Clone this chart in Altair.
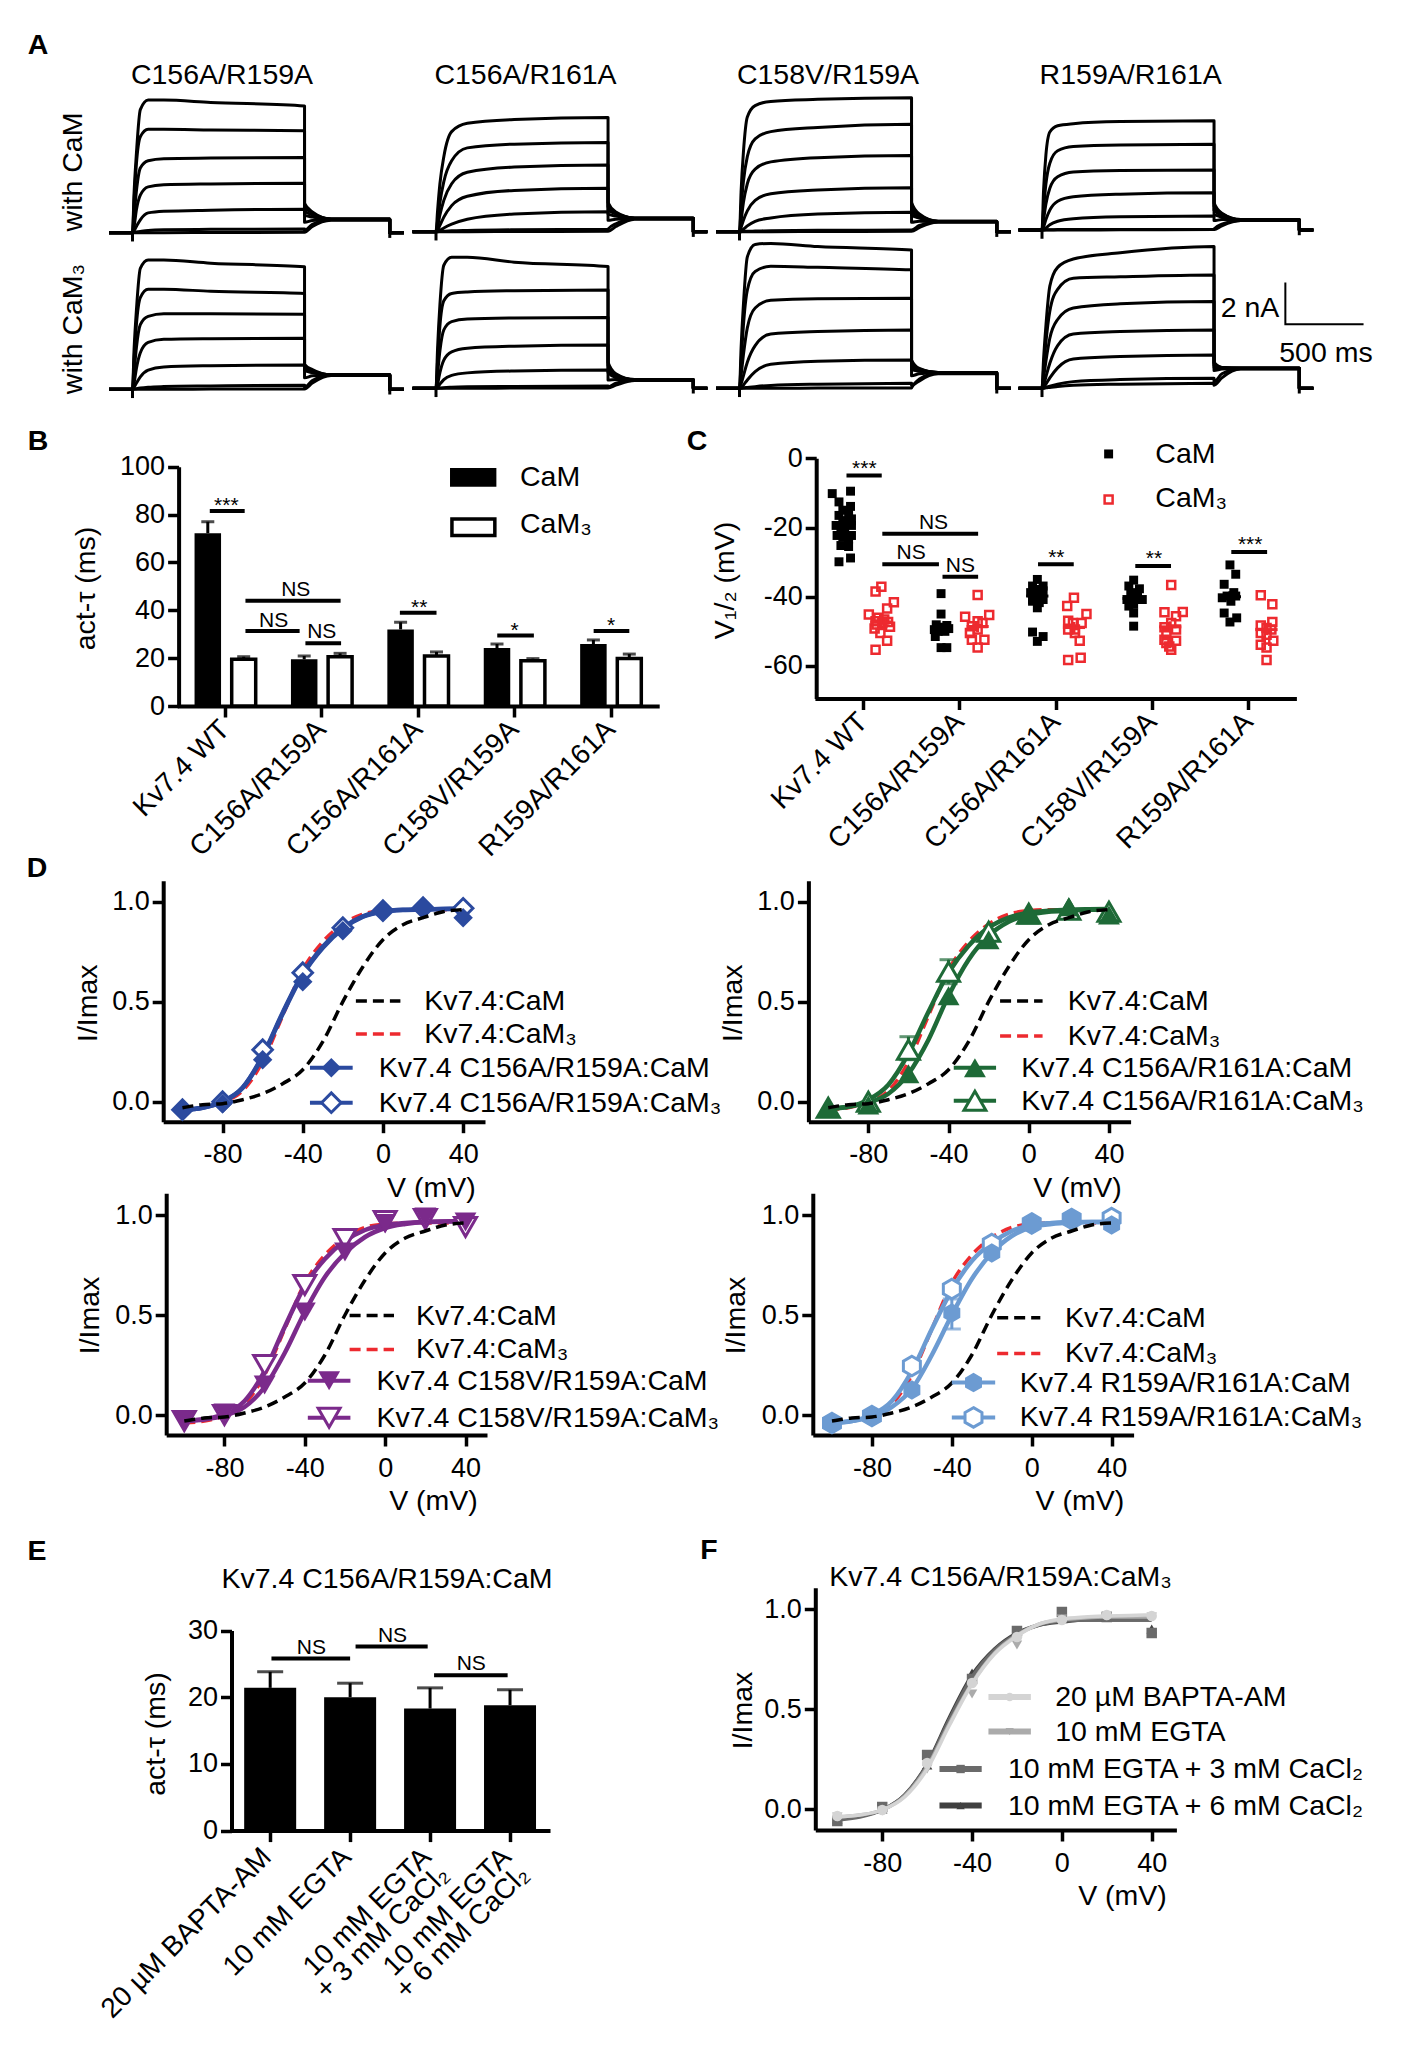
import altair as alt
import pandas as pd

FONT = "Liberation Sans"
MARGIN = 8
W, H = 1388, 2042

# ---------- panel A: current traces (nA), read at these times (ms) ----------
RISE_T = [0, 10, 25, 50, 100, 200, 500, 1100]
TAIL_T = [1100, 1150, 1270]
TRACE_END = 1645
TRACE_POST = 1735
TRACE_PRE = -150

A_TOP_LABELS = ["C156A/R159A", "C156A/R161A", "C158V/R159A", "R159A/R161A"]
A_TOP_X = [222, 525.5, 828, 1130.7]
A_START_PX = [132.5, 436, 739.5, 1042]
A_BASE_ROW1 = [232.7, 231.7, 231.7, 230]
A_BASE_ROW2 = [389.3, 388.3, 388.3, 388.3]

# each row: current at RISE_T then at TAIL_T
A1_CAM = [
    [0, 1.9, 3.8, 5.9, 6.36, 6.36, 6.25, 6.08, 1.4, 1.0, .66],
    [0, 1.5, 3.3, 4.6, 4.96, 4.96, 4.93, 4.89, 1.25, .95, .66],
    [0, .8, 2.0, 3.1, 3.45, 3.55, 3.58, 3.61, 1.05, .85, .65],
    [0, .3, 1.1, 1.8, 2.2, 2.3, 2.34, 2.37, .85, .75, .64],
    [0, .1, .3, .62, .95, 1.03, 1.08, 1.13, .5, .58, .63],
    [0, .01, .03, .06, .11, .14, .16, .18, .1, .4, .62],
    [0, 0, 0, 0, 0, 0, .01, .02, .02, .3, .6],
]
A2_CAM = [
    [0, 1.0, 2.3, 3.6, 4.8, 5.2, 5.38, 5.48, 1.4, .95, .66],
    [0, .5, 1.4, 2.4, 3.4, 4.02, 4.2, 4.28, 1.2, .9, .65],
    [0, .25, .8, 1.5, 2.3, 2.85, 3.1, 3.2, 1.05, .85, .65],
    [0, .08, .3, .7, 1.25, 1.7, 1.98, 2.08, .85, .75, .64],
    [0, .02, .07, .18, .36, .6, .85, .96, .55, .6, .63],
    [0, 0, .01, .02, .04, .06, .09, .11, .12, .38, .62],
    [0, 0, 0, 0, 0, 0, .01, .02, .02, .25, .6],
]
A3_CAM = [
    [0, 1.9, 3.8, 5.5, 6.05, 6.25, 6.35, 6.43, 1.4, .85, .5],
    [0, 1.1, 2.4, 3.6, 4.45, 4.8, 5.0, 5.15, 1.2, .8, .5],
    [0, .5, 1.4, 2.3, 3.0, 3.35, 3.55, 3.65, 1.0, .72, .49],
    [0, .2, .55, 1.0, 1.5, 1.82, 2.0, 2.11, .8, .65, .49],
    [0, .03, .12, .28, .5, .66, .85, .93, .45, .5, .48],
    [0, 0, .01, .02, .03, .05, .07, .08, .08, .3, .47],
    [0, 0, 0, 0, 0, 0, .01, .02, .02, .2, .46],
]
A4_CAM = [
    [0, 1.9, 3.6, 4.7, 5.0, 5.1, 5.2, 5.24, 1.3, .8, .5],
    [0, 1.0, 2.2, 3.2, 3.8, 4.0, 4.08, 4.11, 1.15, .78, .5],
    [0, .5, 1.25, 2.0, 2.55, 2.78, 2.85, 2.88, .95, .7, .49],
    [0, .15, .5, .95, 1.38, 1.6, 1.72, 1.79, .75, .62, .48],
    [0, .03, .1, .25, .42, .54, .63, .67, .45, .5, .48],
    [0, 0, .01, .01, .02, .02, .03, .03, .05, .28, .46],
    [0, 0, 0, 0, 0, 0, .01, .02, .02, .2, .45],
]
A1_CAM3 = [
    [0, 1.9, 3.8, 5.8, 6.2, 6.2, 6.05, 5.88, 1.2, .95, .7],
    [0, 1.4, 3.1, 4.4, 4.8, 4.8, 4.7, 4.6, 1.1, .9, .7],
    [0, .8, 2.0, 3.1, 3.5, 3.62, 3.62, 3.6, 1.0, .85, .7],
    [0, .3, 1.0, 1.75, 2.25, 2.4, 2.43, 2.45, .9, .8, .69],
    [0, .1, .3, .6, .92, 1.07, 1.13, 1.17, .55, .65, .69],
    [0, .01, .03, .06, .1, .13, .16, .2, .1, .42, .68],
    [0, 0, 0, 0, 0, 0, .01, .02, .02, .3, .66],
]
A2_CAM3 = [
    [0, 1.9, 4.0, 5.9, 6.28, 6.28, 6.05, 5.84, 1.25, .7, .42],
    [0, 1.3, 3.0, 4.2, 4.55, 4.62, 4.68, 4.72, 1.1, .65, .42],
    [0, .7, 1.8, 2.8, 3.2, 3.32, 3.37, 3.4, .95, .6, .41],
    [0, .2, .75, 1.35, 1.75, 1.92, 2.02, 2.08, .75, .52, .41],
    [0, .05, .2, .42, .62, .74, .83, .88, .4, .42, .4],
    [0, 0, .01, .03, .05, .07, .09, .11, .06, .25, .39],
    [0, 0, 0, 0, 0, 0, .01, .02, .02, .15, .38],
]
A3_CAM3 = [
    [0, 1.9, 4.0, 6.3, 6.9, 6.95, 6.8, 6.63, 1.35, .95, .76],
    [0, 1.2, 3.0, 4.7, 5.6, 5.85, 5.8, 5.68, 1.2, .92, .76],
    [0, .6, 1.6, 2.9, 3.85, 4.22, 4.3, 4.32, 1.05, .88, .75],
    [0, .2, .6, 1.25, 2.05, 2.6, 2.72, 2.8, .9, .82, .75],
    [0, .04, .15, .4, .8, 1.15, 1.3, 1.36, .6, .7, .74],
    [0, 0, .02, .04, .08, .14, .2, .24, .15, .45, .72],
    [0, 0, 0, 0, 0, 0, .01, .02, .03, .35, .7],
]
A4_CAM3 = [
    [0, 1.4, 3.0, 4.9, 5.8, 6.2, 6.5, 6.8, 1.25, 1.0, .97],
    [0, .9, 2.2, 3.7, 4.75, 5.28, 5.35, 5.44, 1.2, 1.0, .97],
    [0, .5, 1.3, 2.4, 3.3, 3.85, 4.05, 4.16, 1.1, .98, .96],
    [0, .15, .55, 1.2, 2.05, 2.6, 2.72, 2.8, 1.0, .96, .96],
    [0, .05, .2, .5, .98, 1.4, 1.52, 1.6, .85, .92, .95],
    [0, .01, .04, .1, .2, .32, .42, .48, .3, .7, .94],
    [0, 0, .02, .04, .09, .15, .2, .24, .15, .5, .92],
]
SCALEBAR_T = [1556, 1556, 2056]
SCALEBAR_I = [5.07, 3.07, 3.07]

# ---------- panels B, C, E ----------
GROUPS = ["Kv7.4 WT", "C156A/R159A", "C156A/R161A", "C158V/R159A", "R159A/R161A"]
B_CAM = [72.2, 19.5, 32, 24.2, 25.9]
B_CAM_ERR = [77, 20.9, 35, 25.9, 27.6]
B_CAM3 = [19.5, 20.6, 20.9, 18.9, 19.9]
B_CAM3_ERR = [20.6, 22, 22.6, 19.8, 21.7]
B_SIG_X1 = [.338, .708, .708, 1.33, 2.31, 3.32, 4.32]
B_SIG_X2 = [.70, 1.695, 1.27, 1.70, 2.69, 3.70, 4.69]
B_SIG_Y = [81.5, 44, 31.3, 26.2, 39, 29.5, 31.3]
B_SIG_TEXT = ["***", "NS", "NS", "NS", "**", "*", "*"]
B_SIG_TEXT_X = [.51, 1.23, 1.0, 1.5, 2.51, 3.5, 4.5]
B_SIG_TEXT_Y = [83.5, 48.5, 35.5, 30.8, 41, 31.5, 33.5]

C_CAM_OFF = [
    [-.32, -.13, -.25, -.13, -.21, -.15, -.25, -.12, -.21, -.16, -.28, -.12, -.23, -.19, -.27, -.12, -.21, -.15, -.23, -.15, -.13, -.25],
    [-.19, -.19, -.24, -.13, -.26, -.17, -.11, -.22, -.15, -.25, -.13, -.19],
    [-.19, -.24, -.13, -.19, -.26, -.13, -.19, -.24, -.13, -.17, -.24, -.19, -.24, -.13, -.19],
    [-.19, -.24, -.13, -.22, -.15, -.19, -.26, -.10, -.19, -.24, -.19, -.19],
    [-.19, -.13, -.25, -.15, -.22, -.27, -.18, -.13, -.25, -.12, -.19],
]
C_CAM_V = [
    [-10.2, -9.5, -12.6, -13.9, -15, -16, -16.5, -17.5, -18, -18.9, -19.4, -19.4, -19.9, -20.9, -22.3, -22.3, -22.8, -23.3, -25.2, -25.5, -28.8, -29.9],
    [-39.1, -45, -48.1, -48.3, -49.5, -48.8, -49.2, -50, -50, -51.5, -54.7, -54.7],
    [-35, -36.9, -36.9, -37.9, -38.8, -38.3, -39.8, -40.8, -40.8, -41.7, -41.3, -43.2, -50.2, -51.5, -52.9],
    [-35.2, -36.9, -37.7, -38.8, -39.3, -40.8, -40.8, -40.8, -42.2, -42.7, -44.7, -48.5],
    [-30.8, -33.5, -36.4, -38.8, -39.8, -40.3, -41.3, -39.8, -44.7, -46.1, -47.3],
]
C_CAM3_OFF = [
    [.19, .13, .32, .25, .06, .26, .13, .20, .28, .12, .18, .25, .13, .16, .22, .14],
    [.19, .06, .31, .19, .24, .13, .19, .26, .13, .19, .11],
    [.19, .12, .32, .13, .27, .18, .13, .20, .25, .26, .13, .20],
    [.20, .32, .13, .25, .20, .13, .25, .15, .13, .25, .18, .20, .15],
    [.13, .25, .25, .13, .19, .24, .13, .19, .26, .13, .19, .19],
]
C_CAM3_V = [
    [-37.1, -38.5, -41.6, -43.4, -45.1, -47.3, -47.1, -47.6, -48.7, -49.2, -50.5, -52.7, -55.3, -46.1, -46.6, -48],
    [-39.5, -45.8, -45.3, -47.1, -47.6, -48.5, -49.5, -52.4, -52.4, -54.7, -50.5],
    [-40.3, -42.7, -45, -46.9, -47.6, -47.6, -49.5, -49.5, -52.7, -57.6, -58.3, -50.5],
    [-36.6, -44.4, -44.5, -45.6, -47.6, -48.8, -49.5, -50.5, -52.4, -52.7, -54.4, -55.3, -53.4],
    [-39.6, -42.2, -47.3, -48.3, -49, -49.5, -50.5, -51, -52.7, -53.9, -54.7, -58.3],
]
C_CAM_MEAN = [-18.9, -49.3, -39.8, -40.5, -40]
C_CAM3_MEAN = [-47.3, -48.6, -48.9, -48.7, -49.5]
C_SEM = [1.6, 1.6, 1.6, 1.6, 1.6]
C_SIG_X1 = [.328, .70, .70, 1.325, 2.317, 3.327, 4.324]
C_SIG_X2 = [.694, 1.695, 1.288, 1.695, 2.688, 3.698, 4.696]
C_SIG_Y = [-5, -21.8, -30.6, -34.2, -30.6, -31.1, -27.1]
C_SIG_TEXT = ["***", "NS", "NS", "NS", "**", "**", "***"]
C_SIG_TEXT_X = [.513, 1.232, 1.0, 1.51, 2.507, 3.52, 4.52]
C_SIG_TEXT_Y = [-3.2, -18.6, -27.5, -31.1, -28.7, -29.1, -25.1]

E_GROUPS = ["20 µM BAPTA-AM", "10 mM EGTA", "10 mM EGTA|+ 3 mM CaCl₂", "10 mM EGTA|+ 6 mM CaCl₂"]
E_TAU = [21.4, 20, 18.3, 18.8]
E_ERR = [23.8, 22.1, 21.4, 21.1]
E_SIG_X1 = [.516, 1.568, 2.55]
E_SIG_X2 = [1.5, 2.47, 3.47]
E_SIG_Y = [25.8, 27.6, 23.3]
E_SIG_TEXT = ["NS", "NS", "NS"]
E_SIG_TEXT_X = [1.015, 2.03, 3.015]
E_SIG_TEXT_Y = [27.4, 29.2, 25]

# ---------- panels D, F: I/Imax against V ----------
V_FIT = [-100, -90, -80, -70, -60, -50, -40, -30, -20, -10, 0, 10, 20, 30, 40]
V_STEP = [-100, -80, -60, -40, -20, 0, 20, 40]
KV_CAM_FIT = [-.03, -.015, -.01, .01, .04, .09, .16, .30, .50, .675, .81, .885, .92, .95, .96]
KV_CAM3_FIT = [-.04, -.03, -.003, .055, .20, .43, .66, .80, .888, .938, .955, .96, .96, .96, .96]

D1_CAM_FIT = [-.04, -.03, 0, .07, .225, .44, .635, .77, .865, .925, .95, .958, .96, .963, .963]
D1_CAM3_FIT = [-.04, -.03, 0, .07, .23, .445, .64, .775, .87, .927, .952, .96, .962, .964, .965]
D1_CAM_PTS = [-.04, -.01, .21, .60, .855, .958, .975, .92]
D1_CAM3_PTS = [-.04, 0, .26, .645, .87, .955, .97, .967]

D2_CAM_FIT = [-.035, -.025, -.005, .04, .14, .31, .53, .71, .83, .90, .935, .95, .955, .96, .96]
D2_CAM3_FIT = [-.035, -.025, .01, .085, .24, .45, .645, .78, .87, .92, .945, .955, .96, .962, .963]
D2_CAM_PTS = [-.03, -.017, .14, .53, .81, .933, .975, .933]
D2_CAM3_PTS = [-.03, 0, .26, .65, .85, .94, .96, .95]
D2_ERR_V = [-60, -40]
D2_ERR_LOW = [.21, .59]
D2_ERR_HIGH = [.325, .71]

D3_CAM_FIT = [-.03, -.022, -.003, .04, .14, .31, .515, .69, .81, .89, .935, .955, .965, .968, .97]
D3_CAM3_FIT = [-.03, -.02, .005, .07, .22, .44, .645, .78, .87, .925, .95, .96, .965, .968, .97]
D3_CAM_PTS = [-.025, .01, .15, .515, .815, .957, .99, .965]
D3_CAM3_PTS = [-.03, 0, .25, .65, .88, .97, .98, .94]

D4_CAM_FIT = [-.04, -.03, -.01, .04, .13, .30, .50, .68, .81, .895, .94, .955, .962, .965, .965]
D4_CAM3_FIT = [-.04, -.03, 0, .07, .22, .43, .625, .77, .86, .92, .95, .96, .965, .965, .965]
D4_CAM_PTS = [-.04, -.01, .125, .51, .81, .953, .985, .95]
D4_CAM3_PTS = [-.04, -.005, .245, .63, .855, .958, .98, .985]
D4_ERR_V = [-40]
D4_ERR_LOW = [.43]
D4_ERR_HIGH = [.58]

D_SHORT_LABELS = ["Kv7.4:CaM", "Kv7.4:CaM₃"]
D1_LABELS = ["Kv7.4 C156A/R159A:CaM", "Kv7.4 C156A/R159A:CaM₃"]
D2_LABELS = ["Kv7.4 C156A/R161A:CaM", "Kv7.4 C156A/R161A:CaM₃"]
D3_LABELS = ["Kv7.4 C158V/R159A:CaM", "Kv7.4 C158V/R159A:CaM₃"]
D4_LABELS = ["Kv7.4 R159A/R161A:CaM", "Kv7.4 R159A/R161A:CaM₃"]

F_LABELS = ["20 µM BAPTA-AM", "10 mM EGTA", "10 mM EGTA + 3 mM CaCl₂", "10 mM EGTA + 6 mM CaCl₂"]
F_FITS = [
    [-.04, -.03, -.005, .06, .20, .42, .625, .775, .865, .925, .95, .96, .965, .968, .97],
    [-.04, -.03, -.005, .065, .21, .43, .63, .78, .87, .925, .945, .955, .96, .96, .96],
    [-.055, -.04, -.005, .07, .22, .45, .66, .795, .875, .92, .94, .945, .948, .948, .948],
    [-.05, -.035, -.005, .07, .225, .46, .67, .80, .88, .92, .935, .945, .945, .945, .945],
]
F_PTS = [
    [-.035, -.005, .23, .63, .86, .945, .97, .965],
    [-.04, -.01, .20, .575, .82, .95, .965, .96],
    [-.06, .01, .27, .65, .89, .985, .96, .88],
    [-.05, 0, .22, .68, .88, .96, .96, .90],
]

LETTERS = ["A", "B", "C", "D", "E", "F"]
LETTER_X = [38, 38, 697, 37, 37, 709]
LETTER_Y = [45, 441, 441, 868, 1551, 1550]

HEXAGON = "M0,-1L0.87,-0.5L0.87,0.5L0,1L-0.87,0.5L-0.87,-0.5Z"
RED = "#ED2A2F"

layers = []


def q_scale(domain, a, b):
    return alt.Scale(domain=domain, range=[a - MARGIN, b - MARGIN], nice=False, zero=False)


def band_scale(cats, a, b):
    return alt.Scale(domain=cats, range=[a - MARGIN, b - MARGIN], paddingInner=0, paddingOuter=0)


AXIS_STYLE = dict(
    grid=False, domainColor="black", domainWidth=4, tickColor="black", tickWidth=3.5, tickSize=11,
    labelColor="black", labelFont=FONT, labelOverlap=False, labelBound=False,
    titleFont=FONT, titleFontSize=28.5, titleFontWeight="normal", titleColor="black",
    titleAlign="center", titleBaseline="middle",
)


def y_axis(px, values, title, tx, ty, fmt=None):
    extra = {"format": fmt} if fmt else {"labelExpr": "'' + datum.value"}
    return alt.Axis(orient="left", offset=-(px - MARGIN), values=values, title=title, titleAngle=270,
                    titleX=tx - px, titleY=ty - MARGIN, labelPadding=3, labelFontSize=27, **extra, **AXIS_STYLE)


def x_axis_q(py, values, tx, ty):
    return alt.Axis(orient="bottom", offset=-(H - (py - MARGIN)), values=values, title="V (mV)",
                    titleX=tx - MARGIN, titleY=ty - py, labelPadding=9, labelFontSize=27,
                    labelExpr="'' + datum.value", **AXIS_STYLE)


def x_axis_band(py, pad=8, shift=0):
    return alt.Axis(orient="bottom", offset=-(H - (py - MARGIN)), title=None, labelAngle=-45,
                    labelAlign="right", labelBaseline="middle", labelPadding=pad, labelOffset=shift,
                    labelLimit=400, labelFontSize=28, labelExpr="split(datum.label, '|')",
                    labelLineHeight=25, **AXIS_STYLE)


def enc_x(sc, axis=None, field="x"):
    return alt.X(f"{field}:Q", scale=sc, axis=axis, title=None)


def enc_y(sc, axis=None, field="y"):
    return alt.Y(f"{field}:Q", scale=sc, axis=axis, title=None)


def add_text(texts, xs, ys, xsc, ysc, size=28.5, align="left", **mark):
    df = pd.DataFrame({"x": xs, "y": ys, "t": texts})
    layers.append(alt.Chart(df).mark_text(font=FONT, fontSize=size, align=align, baseline="middle",
                                          color=mark.pop("color", "black"), **mark)
                  .encode(x=enc_x(xsc), y=enc_y(ysc), text="t:N"))


def add_segments(x1, x2, y, xsc, ysc, color="black", width=4, dash=None):
    df = pd.DataFrame({"x": x1, "x2": x2, "y": y})
    mark = dict(color=color, strokeWidth=width)
    if dash:
        mark["strokeDash"] = dash
    layers.append(alt.Chart(df).mark_rule(**mark).encode(x=enc_x(xsc), x2="x2:Q", y=enc_y(ysc)))


def add_vsegments(x, y1, y2, xsc, ysc, color="black", width=3):
    df = pd.DataFrame({"x": x, "y": y1, "y2": y2})
    layers.append(alt.Chart(df).mark_rule(color=color, strokeWidth=width)
                  .encode(x=enc_x(xsc), y=enc_y(ysc), y2="y2:Q"))


# ---------- panel A ----------
def trace_panel(rows, x0, base):
    recs = []
    for n, row in enumerate(rows):
        ts = [TRACE_PRE, 0] + RISE_T + TAIL_T + [TRACE_END, TRACE_END, TRACE_POST]
        vs = [0, 0] + row + [row[-1], 0, 0]
        recs += [{"x": t, "y": v, "trace": n, "k": k} for k, (t, v) in enumerate(zip(ts, vs))]
    recs += [{"x": 0, "y": 0, "trace": "on", "k": 0}, {"x": 0, "y": -.42, "trace": "on", "k": 1}]
    recs += [{"x": TRACE_END, "y": 0, "trace": "off", "k": 0}, {"x": TRACE_END, "y": -.25, "trace": "off", "k": 1}]
    xsc = q_scale([0, 1000], x0, x0 + 156.4)
    ysc = q_scale([0, 1], base, base - 20.85)
    layers.append(alt.Chart(pd.DataFrame(recs))
                  .mark_line(color="black", strokeWidth=3, strokeJoin="round", interpolate="monotone")
                  .encode(x=enc_x(xsc), y=enc_y(ysc), detail="trace:N", order="k:Q"))
    return xsc, ysc


for rows, x0, base in zip([A1_CAM, A2_CAM, A3_CAM, A4_CAM], A_START_PX, A_BASE_ROW1):
    trace_panel(rows, x0, base)
for rows, x0, base in zip([A1_CAM3, A2_CAM3, A3_CAM3, A4_CAM3], A_START_PX, A_BASE_ROW2):
    bar_x, bar_y = trace_panel(rows, x0, base)

layers.append(alt.Chart(pd.DataFrame({"x": SCALEBAR_T, "y": SCALEBAR_I, "k": [0, 1, 2]}))
              .mark_line(color="black", strokeWidth=2)
              .encode(x=enc_x(bar_x), y=enc_y(bar_y), order="k:Q"))

page_x = q_scale([0, 1404], 0, 1404)
page_y = q_scale([0, 2058], 0, 2058)
add_text(A_TOP_LABELS, A_TOP_X, [75] * 4, page_x, page_y, align="center")
add_text(["with CaM", "with CaM₃"], [73, 73], [172, 329], page_x, page_y, align="center", angle=270)
add_text(["2 nA", "500 ms"], [1250, 1326], [308, 352.7], page_x, page_y, align="center")
add_text(LETTERS, LETTER_X, LETTER_Y, page_x, page_y, align="center", fontWeight="bold")
add_text(["Kv7.4 C156A/R159A:CaM", "Kv7.4 C156A/R159A:CaM₃"], [387, 1000.5], [1579, 1577],
         page_x, page_y, align="center")


# ---------- panel B ----------
def add_sig(x1, x2, y, txt, tx, ty, xsc, ysc, width=4):
    add_segments(x1, x2, y, xsc, ysc, width=width)
    add_text(txt, tx, ty, xsc, ysc, size=21, align="center")


b_band = band_scale(GROUPS, 177.2, 659.2)
b_y = q_scale([0, 100], 706, 466.7)
b_u = q_scale([0, 5], 177.2, 659.2)
b_ax = y_axis(178.6, [0, 20, 40, 60, 80, 100], "act-τ (ms)", 85, 588)
b_df = pd.DataFrame({"g": GROUPS, "cam": B_CAM, "cam_err": B_CAM_ERR, "cam3": B_CAM3, "cam3_err": B_CAM3_ERR})
gx = lambda axis=None: alt.X("g:N", scale=b_band, axis=axis, title=None, sort=None)

for val, err, off in [("cam", "cam_err", -17.6), ("cam3", "cam3_err", 18.3)]:
    layers.append(alt.Chart(b_df).mark_rule(color="black", strokeWidth=3, xOffset=off)
                  .encode(x=gx(), y=alt.Y(f"{val}:Q", scale=b_y, axis=None, title=None), y2=f"{err}:Q"))
    layers.append(alt.Chart(b_df).mark_tick(color="black", size=13, thickness=3, xOffset=off)
                  .encode(x=gx(), y=alt.Y(f"{err}:Q", scale=b_y, axis=None, title=None)))
layers.append(alt.Chart(b_df).mark_bar(color="black", size=26.5, xOffset=-17.6)
              .encode(x=gx(x_axis_band(706)), y=alt.Y("cam:Q", scale=b_y, axis=b_ax, title=None)))
layers.append(alt.Chart(b_df).mark_bar(fill="white", stroke="black", strokeWidth=3.5, size=24, xOffset=18.3)
              .encode(x=gx(), y=alt.Y("cam3:Q", scale=b_y, axis=None, title=None)))
add_sig(B_SIG_X1, B_SIG_X2, B_SIG_Y, B_SIG_TEXT, B_SIG_TEXT_X, B_SIG_TEXT_Y, b_u, b_y)

leg_b = pd.DataFrame({"x": [2.83], "x2": [3.311], "y": [99.5], "y2": [91.6]})
layers.append(alt.Chart(leg_b).mark_rect(color="black")
              .encode(x=enc_x(b_u), x2="x2:Q", y=enc_y(b_y), y2="y2:Q"))
leg_b3 = pd.DataFrame({"x": [2.85], "x2": [3.295], "y": [78.1], "y2": [71.2]})
layers.append(alt.Chart(leg_b3).mark_rect(fill="white", stroke="black", strokeWidth=3.5)
              .encode(x=enc_x(b_u), x2="x2:Q", y=enc_y(b_y), y2="y2:Q"))
add_text(["CaM", "CaM₃"], [3.556, 3.556], [95.8, 76], b_u, b_y)

# ---------- panel C ----------
c_band = band_scale(GROUPS, 814.9, 1296.4)
c_y = q_scale([-69.4, 0], 698.5, 458.3)
c_u = q_scale([0, 5], 814.9, 1296.4)
c_ax = y_axis(816.2, [0, -20, -40, -60], "V₁/₂ (mV)", 724.6, 580)
layers.append(alt.Chart(pd.DataFrame({"g": GROUPS, "y": [0] * 5})).mark_point(opacity=0)
              .encode(x=alt.X("g:N", scale=c_band, axis=x_axis_band(698.5), title=None, sort=None),
                      y=alt.Y("y:Q", scale=c_y, axis=c_ax, title=None)))


def scatter_recs(offs, vals):
    return pd.DataFrame([{"x": g + .5 + o, "y": v}
                         for g, (os_, vs) in enumerate(zip(offs, vals))
                         for o, v in zip(os_, vs)])


layers.append(alt.Chart(scatter_recs(C_CAM_OFF, C_CAM_V))
              .mark_point(shape="square", filled=True, color="black", size=80, opacity=1)
              .encode(x=enc_x(c_u), y=enc_y(c_y)))
layers.append(alt.Chart(scatter_recs(C_CAM3_OFF, C_CAM3_V))
              .mark_point(shape="square", filled=False, color=RED, size=64, strokeWidth=2.5, opacity=1)
              .encode(x=enc_x(c_u), y=enc_y(c_y)))
centers = [g + .5 for g in range(5)]
add_segments([c - .305 for c in centers], [c - .075 for c in centers], C_CAM_MEAN, c_u, c_y, width=3)
add_segments([c + .075 for c in centers], [c + .305 for c in centers], C_CAM3_MEAN, c_u, c_y, color=RED, width=3)
add_vsegments([c - .19 for c in centers], [m - s for m, s in zip(C_CAM_MEAN, C_SEM)],
              [m + s for m, s in zip(C_CAM_MEAN, C_SEM)], c_u, c_y)
add_vsegments([c + .19 for c in centers], [m - s for m, s in zip(C_CAM3_MEAN, C_SEM)],
              [m + s for m, s in zip(C_CAM3_MEAN, C_SEM)], c_u, c_y, color=RED)
add_sig(C_SIG_X1, C_SIG_X2, C_SIG_Y, C_SIG_TEXT, C_SIG_TEXT_X, C_SIG_TEXT_Y, c_u, c_y)
layers.append(alt.Chart(pd.DataFrame({"x": [3.05], "y": [1.26]}))
              .mark_point(shape="square", filled=True, color="black", size=80, opacity=1)
              .encode(x=enc_x(c_u), y=enc_y(c_y)))
layers.append(alt.Chart(pd.DataFrame({"x": [3.05], "y": [-11.9]}))
              .mark_point(shape="square", filled=False, color=RED, size=64, strokeWidth=2.5, opacity=1)
              .encode(x=enc_x(c_u), y=enc_y(c_y)))
add_text(["CaM", "CaM₃"], [3.535, 3.535], [1.26, -11.4], c_u, c_y)


# ---------- panel D ----------
def iv_panel(xr, xdom, yr, ydom, ty_title, tx_y, tx_x, ty_x, color, shape, size, cam_fit, cam3_fit,
             cam_pts, cam3_pts, labels, short_x, long_x, leg_y, err=None):
    xsc = q_scale(xdom, xr[0], xr[1])
    ysc = q_scale(ydom, yr[0], yr[1])
    ax_y = y_axis(xr[0], [0, .5, 1], "I/Imax", tx_y, ty_title, fmt=".1f")
    ax_x = x_axis_q(yr[0], [-80, -40, 0, 40], tx_x, ty_x)
    layers.append(alt.Chart(pd.DataFrame({"x": V_FIT, "y": KV_CAM3_FIT}))
                  .mark_line(color=RED, strokeWidth=3.5, strokeDash=[11, 6], interpolate="monotone")
                  .encode(x=enc_x(xsc, ax_x), y=enc_y(ysc, ax_y)))
    for fit in (cam_fit, cam3_fit):
        layers.append(alt.Chart(pd.DataFrame({"x": V_FIT, "y": fit}))
                      .mark_line(color=color, strokeWidth=4.5, interpolate="monotone")
                      .encode(x=enc_x(xsc), y=enc_y(ysc)))
    if err:
        add_vsegments(err[0], err[1], err[2], xsc, ysc, color=color, width=3)
        for ends in (err[1], err[2]):
            layers.append(alt.Chart(pd.DataFrame({"x": err[0], "y": ends}))
                          .mark_tick(color=color, size=18, thickness=3, orient="horizontal")
                          .encode(x=enc_x(xsc), y=enc_y(ysc)))
    layers.append(alt.Chart(pd.DataFrame({"x": V_STEP, "y": cam3_pts}))
                  .mark_point(shape=shape, filled=True, fill="white", stroke=color, strokeWidth=3, size=size, opacity=1)
                  .encode(x=enc_x(xsc), y=enc_y(ysc)))
    layers.append(alt.Chart(pd.DataFrame({"x": V_STEP, "y": cam_pts}))
                  .mark_point(shape=shape, filled=True, color=color, size=size, opacity=1)
                  .encode(x=enc_x(xsc), y=enc_y(ysc)))
    layers.append(alt.Chart(pd.DataFrame({"x": V_FIT, "y": KV_CAM_FIT}))
                  .mark_line(color="black", strokeWidth=3.5, strokeDash=[11, 6], interpolate="monotone")
                  .encode(x=enc_x(xsc), y=enc_y(ysc)))
    # hand-drawn style legend inside the panel
    add_segments([short_x[0]], [short_x[1]], [leg_y[0]], xsc, ysc, width=3.5, dash=[11, 6])
    add_segments([short_x[0]], [short_x[1]], [leg_y[1]], xsc, ysc, color=RED, width=3.5, dash=[11, 6])
    add_text(D_SHORT_LABELS, [short_x[2]] * 2, leg_y[:2], xsc, ysc)
    add_segments([long_x[0]] * 2, [long_x[1]] * 2, leg_y[2:], xsc, ysc, color=color, width=4)
    mid = (long_x[0] + long_x[1]) / 2
    layers.append(alt.Chart(pd.DataFrame({"x": [mid], "y": [leg_y[3]]}))
                  .mark_point(shape=shape, filled=True, fill="white", stroke=color, strokeWidth=3, size=size, opacity=1)
                  .encode(x=enc_x(xsc), y=enc_y(ysc)))
    layers.append(alt.Chart(pd.DataFrame({"x": [mid], "y": [leg_y[2]]}))
                  .mark_point(shape=shape, filled=True, color=color, size=size, opacity=1)
                  .encode(x=enc_x(xsc), y=enc_y(ysc)))
    add_text(labels, [long_x[2]] * 2, leg_y[2:], xsc, ysc)


iv_panel([163.2, 485], [-109.6, 50.9], [1121.7, 880.7], [-.1, 1.105], 1002.7, 87, 430.8, 1187,
         "#2B4A9F", "diamond", 380, D1_CAM_FIT, D1_CAM3_FIT, D1_CAM_PTS, D1_CAM3_PTS, D1_LABELS,
         [-13.5, 8.7, 20.6], [-36.4, -15.1, -2.1], [.503, .338, .17, -.005])
iv_panel([808.4, 1130.6], [-109.9, 50.8], [1121.7, 880.7], [-.1, 1.105], 1002.7, 732.5, 1077, 1187,
         "#1E6A37", "triangle-up", 480, D2_CAM_FIT, D2_CAM3_FIT, D2_CAM_PTS, D2_CAM3_PTS, D2_LABELS,
         [-14.3, 6.9, 19.5], [-37.4, -16.3, -3.8], [.503, .328, .17, .005],
         err=(D2_ERR_V, D2_ERR_LOW, D2_ERR_HIGH))
iv_panel([166.2, 487], [-109, 50.7], [1435, 1193.3], [-.1, 1.1085], 1315, 89.5, 433, 1500,
         "#7B2A8B", "triangle-down", 480, D3_CAM_FIT, D3_CAM3_FIT, D3_CAM_PTS, D3_CAM3_PTS, D3_LABELS,
         [-17.7, 4.4, 15.3], [-38.5, -17.3, -4.3], [.497, .328, .171, -.014])
iv_panel([812.8, 1133.6], [-109.6, 51], [1435, 1193.3], [-.1, 1.1085], 1315, 735.6, 1079.4, 1500,
         "#6C9BD2", HEXAGON, 380, D4_CAM_FIT, D4_CAM3_FIT, D4_CAM_PTS, D4_CAM3_PTS, D4_LABELS,
         [-17.3, 4.3, 16.6], [-40, -18.3, -6], [.486, .308, .162, -.012],
         err=(D4_ERR_V, D4_ERR_LOW, D4_ERR_HIGH))

# ---------- panel E ----------
e_band = band_scale(E_GROUPS, 230.2, 550)
e_y = q_scale([0, 30], 1830.6, 1630.5)
e_u = q_scale([0, 4], 230.2, 550)
e_df = pd.DataFrame({"g": E_GROUPS, "tau": E_TAU, "err": E_ERR})
ex = lambda axis=None: alt.X("g:N", scale=e_band, axis=axis, title=None, sort=None)
e_ax = y_axis(231.5, [0, 10, 20, 30], "act-τ (ms)", 155.7, 1733.5)
layers.append(alt.Chart(e_df).mark_rule(color="black", strokeWidth=3)
              .encode(x=ex(), y=alt.Y("tau:Q", scale=e_y, axis=None, title=None), y2="err:Q"))
layers.append(alt.Chart(e_df).mark_tick(color="black", size=26, thickness=3)
              .encode(x=ex(), y=alt.Y("err:Q", scale=e_y, axis=None, title=None)))
layers.append(alt.Chart(e_df).mark_bar(color="black", size=52)
              .encode(x=ex(x_axis_band(1830.6, pad=11, shift=-3)), y=alt.Y("tau:Q", scale=e_y, axis=e_ax, title=None)))
add_sig(E_SIG_X1, E_SIG_X2, E_SIG_Y, E_SIG_TEXT, E_SIG_TEXT_X, E_SIG_TEXT_Y, e_u, e_y)

# ---------- panel F ----------
f_x = q_scale([-109.8, 51], 815.3, 1176.4)
f_y = q_scale([-.105, 1.1065], 1830, 1587.7)
f_ax_y = y_axis(815.3, [0, .5, 1], "I/Imax", 742.5, 1710, fmt=".1f")
f_ax_x = x_axis_q(1830, [-80, -40, 0, 40], 1122, 1895)
F_COLORS = ["#D4D4D4", "#ABABAB", "#6A6A6A", "#404040"]
F_SHAPES = ["circle", "triangle-down", "square", "triangle-up"]
F_LINE_X1 = [-32.7, -32.7, -54.5, -54.5]
F_LINE_X2 = [-13.8, -13.8, -35.7, -35.7]
F_TEXT_X = [-3, -3, -24, -24]
F_LEG_Y = [.56, .387, .20, .017]
for i in [3, 2, 1, 0]:
    axes = dict(x=enc_x(f_x, f_ax_x), y=enc_y(f_y, f_ax_y)) if i == 3 else dict(x=enc_x(f_x), y=enc_y(f_y))
    layers.append(alt.Chart(pd.DataFrame({"x": V_FIT, "y": F_FITS[i]}))
                  .mark_line(color=F_COLORS[i], strokeWidth=3.5, interpolate="monotone").encode(**axes))
    layers.append(alt.Chart(pd.DataFrame({"x": V_STEP, "y": F_PTS[i]}))
                  .mark_point(shape=F_SHAPES[i], filled=True, color=F_COLORS[i], size=110, opacity=1)
                  .encode(x=enc_x(f_x), y=enc_y(f_y)))
    add_segments([F_LINE_X1[i]], [F_LINE_X2[i]], [F_LEG_Y[i]], f_x, f_y, color=F_COLORS[i], width=6)
    layers.append(alt.Chart(pd.DataFrame({"x": [(F_LINE_X1[i] + F_LINE_X2[i]) / 2], "y": [F_LEG_Y[i]]}))
                  .mark_point(shape=F_SHAPES[i], filled=True, color=F_COLORS[i], size=70, opacity=1)
                  .encode(x=enc_x(f_x), y=enc_y(f_y)))
add_text(F_LABELS, F_TEXT_X, F_LEG_Y, f_x, f_y)

chart = alt.layer(*layers).resolve_scale(x="independent", y="independent").resolve_axis(
    x="independent", y="independent"
).properties(
    width=W, height=H, padding=0, autosize=alt.AutoSizeParams(type="none"), background="white"
).configure_view(stroke=None)

chart.save("out.html", embed_options={"renderer": "svg", "actions": False})
